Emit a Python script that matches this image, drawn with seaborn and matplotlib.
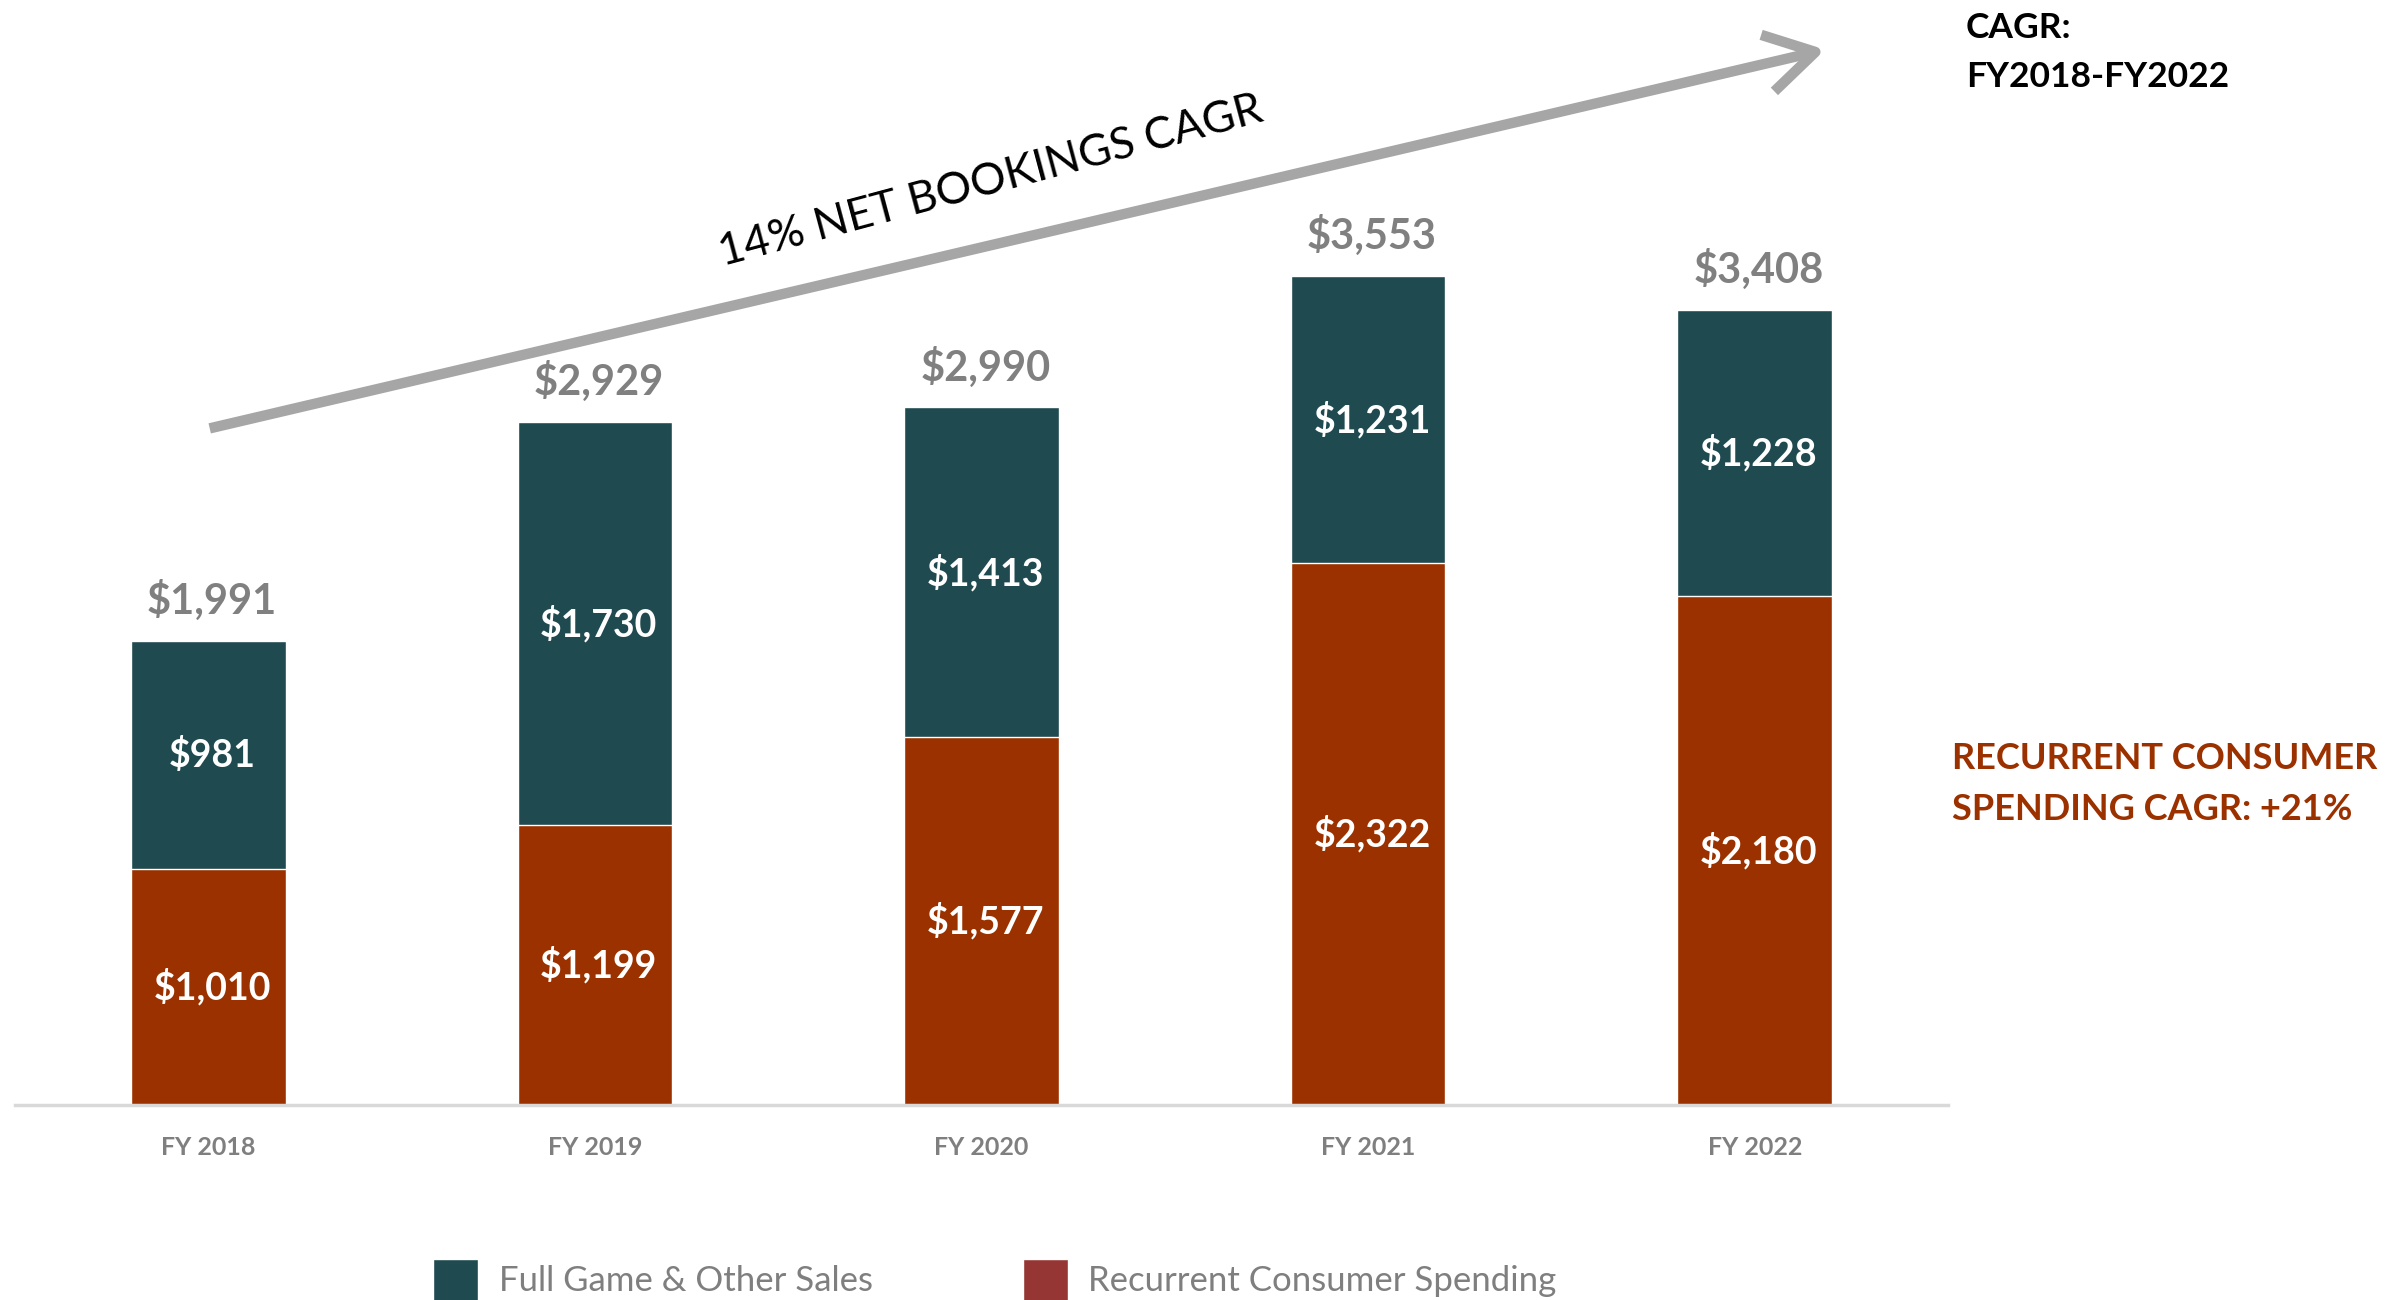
import matplotlib
matplotlib.use("Agg")
import matplotlib.pyplot as plt
from matplotlib.patches import Patch, FancyArrowPatch
import seaborn as sns
import pandas as pd

# Net bookings by fiscal year ($ millions)
years = ["FY 2018", "FY 2019", "FY 2020", "FY 2021", "FY 2022"]
recurrent_spending = [1010, 1199, 1577, 2322, 2180]
full_game_sales = [981, 1730, 1413, 1231, 1228]
totals = [r + f for r, f in zip(recurrent_spending, full_game_sales)]

TEAL = "#1F4A50"
RUST = "#9C3100"
LEGEND_RED = "#963634"
GRAY = "#808080"

sns.set_theme(style="white")
plt.rcParams["font.family"] = ["Lato", "DejaVu Sans"]

df = pd.DataFrame({"year": years, "recurrent": recurrent_spending,
                   "full_game": full_game_sales, "total": totals})

fig = plt.figure(figsize=(24.08, 13), dpi=100)
ax = fig.add_axes([15 / 2408, 0.15, 1933 / 2408, 0.8255])

# Stacked bars: total height in teal, recurrent share drawn over it from the base
sns.barplot(data=df, x="year", y="total", color=TEAL, saturation=1, width=0.4, ax=ax)
sns.barplot(data=df, x="year", y="recurrent", color=RUST, saturation=1, width=0.4, ax=ax)

ax.set_xlim(-0.5, 4.5)
ax.set_ylim(0, 4600)
ax.set_xlabel("")
ax.set_ylabel("")
ax.set_yticks([])
for side in ("top", "right", "left"):
    ax.spines[side].set_visible(False)
ax.spines["bottom"].set_color("#D9D9D9")
ax.spines["bottom"].set_linewidth(2.5)
ax.tick_params(axis="x", length=0, pad=22, labelsize=18, labelcolor="#7F7F7F")
for lbl in ax.get_xticklabels():
    lbl.set_fontweight("bold")

# Segment and total labels
for i, (r, f, t) in enumerate(zip(recurrent_spending, full_game_sales, totals)):
    ax.text(i + 0.01, r / 2, f"${r:,}", ha="center", va="center", color="white",
            fontsize=27, fontweight="bold")
    ax.text(i + 0.01, r + f / 2, f"${f:,}", ha="center", va="center", color="white",
            fontsize=27, fontweight="bold")
    ax.annotate(f"${t:,}", xy=(i + 0.01, t), xytext=(0, 29), textcoords="offset points",
                ha="center", va="center", color=GRAY, fontsize=30, fontweight="bold")

# Growth arrow with caption
arrow = FancyArrowPatch((207 / 2408, 1 - 429 / 1300), (1828 / 2408, 1 - 49 / 1300),
                        transform=fig.transFigure, arrowstyle="->,head_length=1.6,head_width=0.95",
                        mutation_scale=22, color="#A6A6A6", linewidth=7.5, capstyle="butt")
fig.add_artist(arrow)
fig.text(991 / 2408, 1 - 181 / 1300, "14% NET BOOKINGS CAGR", rotation=15,
         rotation_mode="anchor", ha="center", va="center", fontsize=32, color="black")

# Side notes
fig.text(1966 / 2408, 1 - 28 / 1300, "CAGR:", ha="left", va="center",
         fontsize=25.5, fontweight="bold", color="black")
fig.text(1966 / 2408, 1 - 77 / 1300, "FY2018-FY2022", ha="left", va="center",
         fontsize=25.5, fontweight="bold", color="black")
fig.text(1952 / 2408, 1 - 759 / 1300, "RECURRENT CONSUMER", ha="left", va="center",
         fontsize=26, fontweight="bold", color=RUST)
fig.text(1952 / 2408, 1 - 809 / 1300, "SPENDING CAGR: +21%", ha="left", va="center",
         fontsize=26, fontweight="bold", color=RUST)

handles = [Patch(facecolor=TEAL, label="Full Game & Other Sales"),
           Patch(facecolor=LEGEND_RED, label="Recurrent Consumer Spending")]
leg = fig.legend(handles=handles, loc="center", bbox_to_anchor=(995 / 2408, 1 - 1280 / 1300),
                 ncol=2, frameon=False, fontsize=25, handlelength=1.3, handleheight=1.5,
                 handletextpad=0.6, columnspacing=4.3)
for txt in leg.get_texts():
    txt.set_color("#7F7F7F")

fig.savefig("out.png", dpi=100)
